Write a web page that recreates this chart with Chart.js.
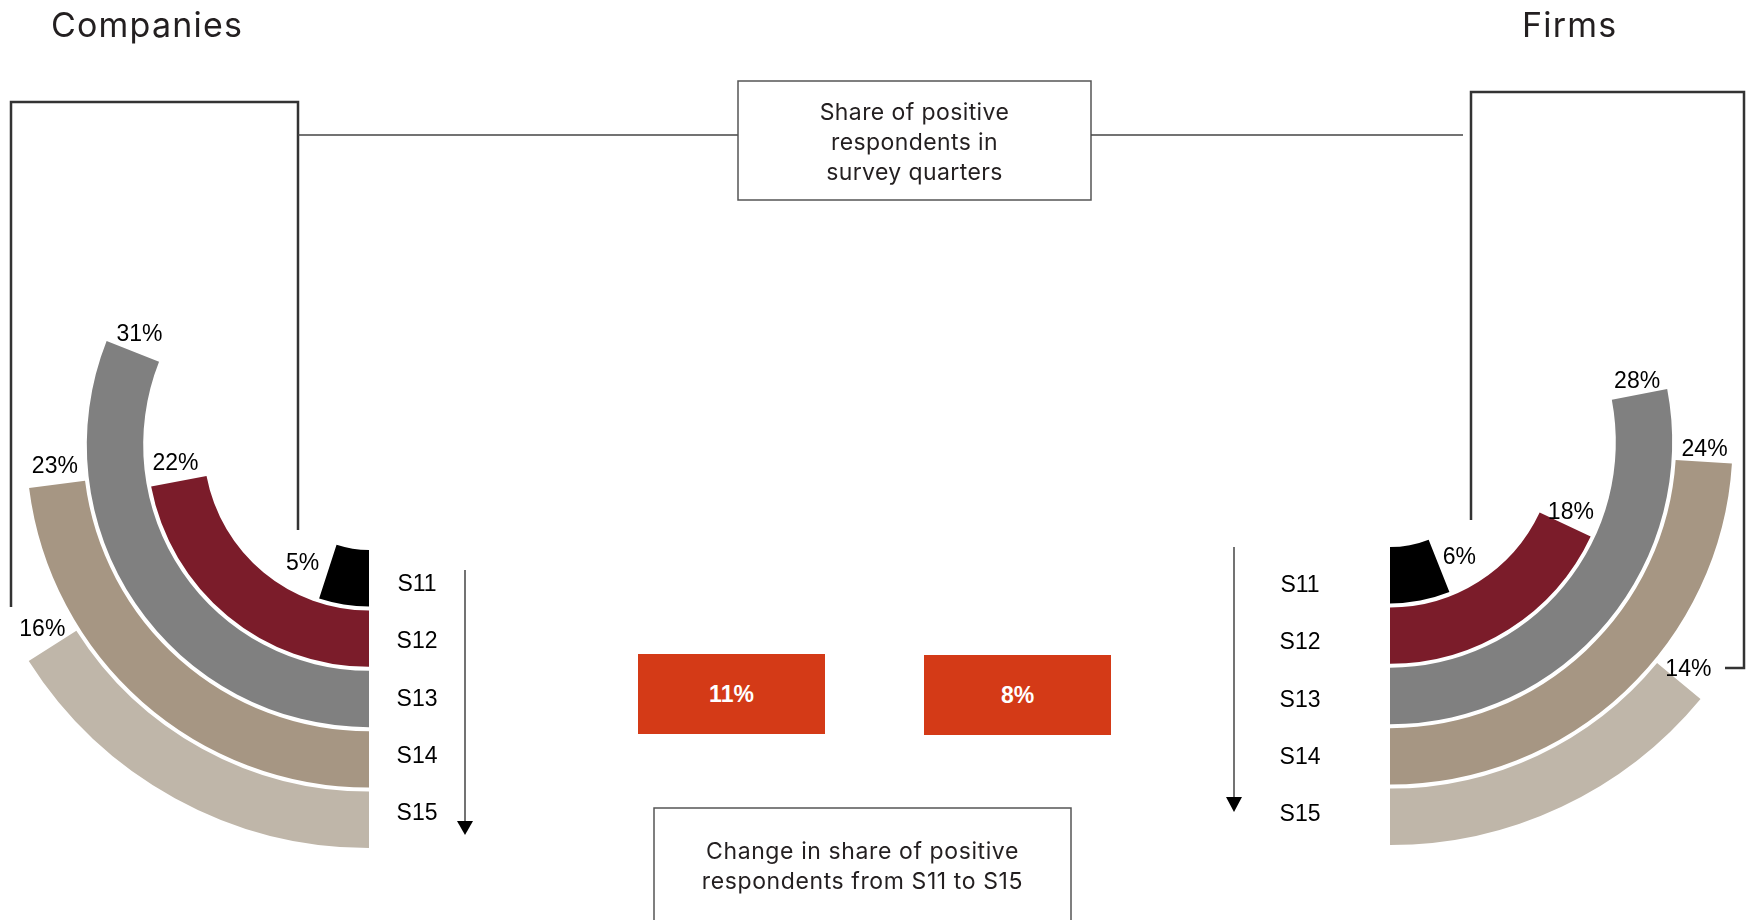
<!DOCTYPE html>
<html>
<head>
<meta charset="utf-8">
<script src="https://cdn.jsdelivr.net/npm/chart.js@4.4.0/dist/chart.umd.min.js"></script>
<style>
  body { margin: 0; width: 1746px; height: 920px; overflow: hidden; background: #fff; position: relative; }
  .abs { position: absolute; }
  .title { font-family: Inter, "Noto Sans", sans-serif; font-size: 34px; color: #231f20; letter-spacing: 1.2px; line-height: 40px; z-index: 3; }
  .boxText { font-family: Inter, "Noto Sans", sans-serif; font-size: 23px; color: #231f20; line-height: 30px; text-align: center; letter-spacing: 0.4px; z-index: 3; }
  .change { background: #d43a17; color: #fff; font-family: "Liberation Sans", Arial, sans-serif; font-weight: bold; font-size: 23px; display: flex; align-items: center; justify-content: center; z-index: 3; }
  .wrap { position: absolute; width: 806px; height: 806px; z-index: 1; }
  svg { z-index: 2; }
</style>
</head>
<body>

<div class="abs title" style="left:51px; top:5px;">Companies</div>
<div class="abs title" style="left:1522px; top:5px;">Firms</div>

<svg class="abs" width="1746" height="920" style="left:0; top:0;">
  <polyline points="11,607 11,102 298,102 298,530" fill="none" stroke="#333" stroke-width="2.5"/>
  <line x1="298" y1="135" x2="738" y2="135" stroke="#444" stroke-width="1.5"/>
  <rect x="738" y="81" width="353" height="119" fill="#fff" stroke="#555" stroke-width="1.5"/>
  <line x1="1091" y1="135" x2="1463" y2="135" stroke="#444" stroke-width="1.5"/>
  <polyline points="1471,520 1471,92 1744,92 1744,668 1725,668" fill="none" stroke="#333" stroke-width="2.5"/>
  <line x1="465" y1="570" x2="465" y2="822" stroke="#444" stroke-width="1.5"/>
  <polygon points="457,821 473,821 465,835" fill="#000"/>
  <line x1="1234" y1="547" x2="1234" y2="798" stroke="#444" stroke-width="1.5"/>
  <polygon points="1226,797 1242,797 1234,812" fill="#000"/>
  <rect x="654" y="808" width="417" height="140" fill="#fff" stroke="#555" stroke-width="1.5"/>
</svg>

<div class="abs boxText" style="left:738px; top:97px; width:353px;">Share of positive<br>respondents in<br>survey quarters</div>
<div class="abs boxText" style="left:654px; top:836px; width:417px; letter-spacing:0.6px;">Change in share of positive<br>respondents from S11 to S15</div>

<div id="companiesChange" class="abs change" style="left:638px; top:654px; width:187px; height:80px;"></div>
<div id="firmsChange" class="abs change" style="left:924px; top:655px; width:187px; height:80px;"></div>

<div class="wrap" style="left:-34px; top:42px;"><canvas id="companiesChart" width="806" height="806"></canvas></div>
<div class="wrap" style="left:987px; top:39px;"><canvas id="firmsChart" width="806" height="806"></canvas></div>

<script>
const quarters = ["S11", "S12", "S13", "S14", "S15"];
const companiesShare = [5, 22, 31, 23, 16];
const firmsShare = [6, 18, 28, 24, 14];
const quarterColors = ["#000000", "#7b1c2a", "#808080", "#a69683", "#bfb6a9"];

const clear = "rgba(0,0,0,0)";

// outermost ring first, thin transparent rings as white gaps
function buildRings(values, side) {
  const sets = [];
  for (let i = values.length - 1; i >= 0; i--) {
    const v = values[i];
    sets.push({
      label: quarters[i],
      data: side === "left" ? [v, 100 - v] : [100 - v, v],
      backgroundColor: side === "left" ? [quarterColors[i], clear] : [clear, quarterColors[i]],
      borderWidth: 0,
      weight: 56,
      quarter: i,
    });
    if (i > 0) {
      sets.push({ data: [100], backgroundColor: [clear], borderWidth: 0, weight: 4, spacer: true });
    }
  }
  return sets;
}

const ringLabels = {
  id: "ringLabels",
  afterDatasetsDraw(chart, args, opts) {
    const ctx = chart.ctx;
    ctx.save();
    ctx.fillStyle = "#000";
    ctx.font = "23px 'Liberation Sans', Arial, sans-serif";
    ctx.textAlign = "center";
    ctx.textBaseline = "middle";
    chart.data.datasets.forEach((ds, idx) => {
      if (ds.spacer) return;
      const meta = chart.getDatasetMeta(idx);
      const arc = meta.data[opts.side === "left" ? 0 : 1];
      const { x, y, startAngle, endAngle, innerRadius, outerRadius } = arc.getProps(
        ["x", "y", "startAngle", "endAngle", "innerRadius", "outerRadius"], true);
      const mid = (innerRadius + outerRadius) / 2;
      const value = ds.data[opts.side === "left" ? 0 : 1];
      const text = value + "%";

      // value label just past the free end of the arc, pushed out until the text box clears it
      const a = opts.side === "left" ? endAngle : startAngle;
      const dir = opts.side === "left" ? 1 : -1;
      const tx = -dir * Math.sin(a);
      const ty = dir * Math.cos(a);
      const halfW = ctx.measureText(text).width / 2;
      const halfH = 8.5;
      const reach = Math.min(halfW / Math.max(Math.abs(tx), 1e-6), halfH / Math.max(Math.abs(ty), 1e-6));
      const off = reach + opts.margin;
      ctx.fillText(text, x + mid * Math.cos(a) + tx * off, y + mid * Math.sin(a) + ty * off);

      // quarter name beside the ring bottom (labels sit a bit tighter than the rings)
      const qx = opts.side === "left" ? x + 48 : x - 90;
      ctx.fillText(quarters[ds.quarter], qx, y + opts.shift + mid * 0.95);
    });
    ctx.restore();
  },
};

function makeChart(id, values, side, margin, shift) {
  return new Chart(document.getElementById(id), {
    type: "doughnut",
    data: { labels: ["share", "rest"], datasets: buildRings(values, side) },
    options: {
      responsive: false,
      animation: false,
      events: [],
      rotation: 180,
      circumference: 360,
      cutout: 105,
      layout: { padding: 0 },
      plugins: {
        legend: { display: false },
        tooltip: { enabled: false },
        ringLabels: { side: side, margin: margin, shift: shift },
      },
    },
    plugins: [ringLabels],
  });
}

makeChart("companiesChart", companiesShare, "left", 9, 13);
makeChart("firmsChart", firmsShare, "right", 4, 17);

const last = quarters.length - 1;
document.getElementById("companiesChange").innerText = `${companiesShare[last] - companiesShare[0]}%`;
document.getElementById("firmsChange").innerText = `${firmsShare[last] - firmsShare[0]}%`;
</script>
</body>
</html>
